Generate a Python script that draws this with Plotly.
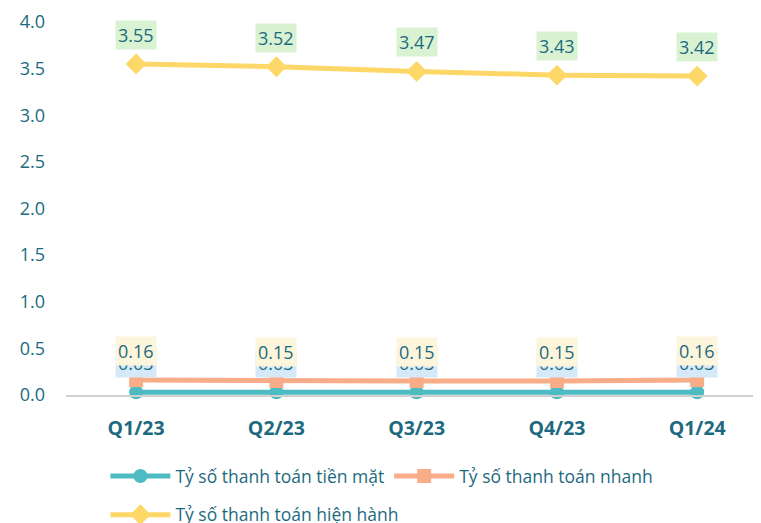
import plotly.graph_objects as go

categories = ["Q1/23", "Q2/23", "Q3/23", "Q4/23", "Q1/24"]
cash_ratio = [0.03, 0.03, 0.03, 0.03, 0.03]
quick_ratio = [0.16, 0.15, 0.15, 0.15, 0.16]
current_ratio = [3.55, 3.52, 3.47, 3.43, 3.42]
series_names = ["Tỷ số thanh toán tiền mặt", "Tỷ số thanh toán nhanh", "Tỷ số thanh toán hiện hành"]
y_ticks = [0.0, 0.5, 1.0, 1.5, 2.0, 2.5, 3.0, 3.5, 4.0]

TXT = "#1d6a80"
FONT = "Open Sans"
colors = ["#4dbbc2", "#f8ad88", "#fdd768"]
label_bg = ["#d5e9f9", "#fdf6dc", "#d9f2d2"]
symbols = ["circle", "square", "diamond"]
data = [cash_ratio, quick_ratio, current_ratio]

fig = go.Figure()
for i, (name, vals) in enumerate(zip(series_names, data)):
    fig.add_trace(go.Scatter(
        x=categories, y=vals, name=name, mode="lines+markers",
        line=dict(color=colors[i], width=5),
        marker=dict(symbol=symbols[i], size=14 if i != 2 else 16, color=colors[i]),
        cliponaxis=False,
        legend="legend" if i < 2 else "legend2",
    ))
    for c, v in zip(categories, vals):
        fig.add_annotation(
            x=c, y=v, text=f"{v:.2f}", showarrow=False, yshift=29,
            font=dict(family=FONT, size=18, color=TXT),
            bgcolor=label_bg[i], borderpad=2,
        )

fig.update_layout(
    width=761, height=523,
    margin=dict(l=58, r=8, t=14, b=136),
    paper_bgcolor="white", plot_bgcolor="white",
    font=dict(family=FONT, size=18, color=TXT),
    xaxis=dict(
        range=[-0.5, 4.455], showgrid=False, zeroline=False, automargin=False,
        showline=True, linecolor="#d0d0d0", linewidth=1.5,
        tickfont=dict(family=FONT, size=19.5, color=TXT, weight="bold"),
        ticks="", ticklabelstandoff=15,
    ),
    yaxis=dict(
        range=[0, 4.0], tickvals=y_ticks, ticktext=[f"{t:.1f}" for t in y_ticks],
        showgrid=False, zeroline=False, showline=False, automargin=False,
        tickfont=dict(family=FONT, size=18, color=TXT), ticks="", ticklabelstandoff=20,
    ),
    showlegend=True,
    legend=dict(orientation="h", xref="container", yref="container", x=0.128, y=0.105,
                xanchor="left", yanchor="middle", itemwidth=60,
                font=dict(family=FONT, size=17.5, color=TXT), bgcolor="rgba(0,0,0,0)"),
    legend2=dict(orientation="h", xref="container", yref="container", x=0.128, y=0.031,
                 xanchor="left", yanchor="middle", itemwidth=60,
                 font=dict(family=FONT, size=17.5, color=TXT), bgcolor="rgba(0,0,0,0)"),
)

fig.write_html("out.html")
